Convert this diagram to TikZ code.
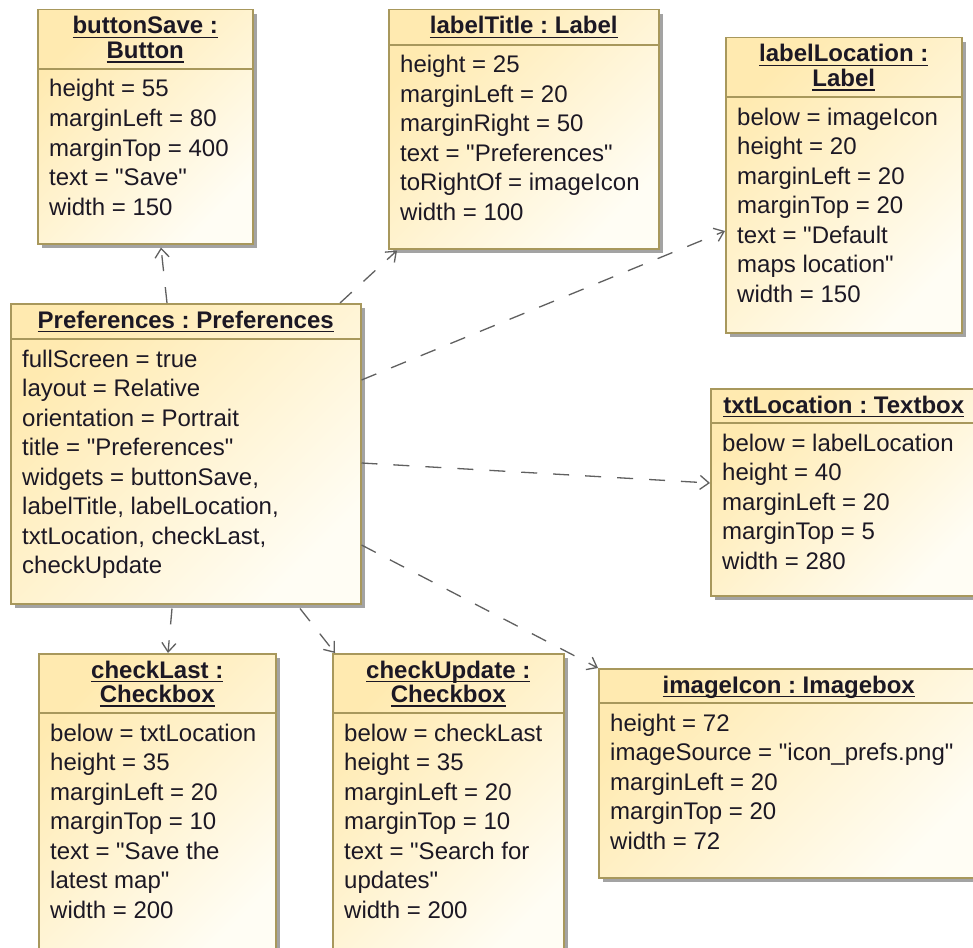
\documentclass[tikz,border=0pt]{standalone}
\usepackage{fontspec}
% plain family without TeX ligature mapping, so " stays a straight quote
\newfontfamily\objfamily{Liberation Sans}
\usetikzlibrary{arrows.meta,shadows,calc}

\definecolor{objedge}{RGB}{168,152,92}
\definecolor{objfillA}{RGB}{255,234,176}
\definecolor{objfillB}{RGB}{255,253,244}
\definecolor{objink}{RGB}{28,24,36}
\definecolor{linkink}{RGB}{96,96,96}

% underlined title line with a fixed rule position
\newcommand\objul[1]{\setbox0\hbox{#1}\rlap{\vrule height -2.6pt depth 4.2pt width \wd0}\box0}
% centred title lines, separated by \\
\newcommand\objtitle[1]{\vtop{\baselineskip=24.5pt\lineskiplimit=-100pt\let\\=\cr\halign{\hfil##\hfil\cr#1\crcr}}}
% left aligned attribute lines, separated by \\
\newcommand\objlines[1]{\vtop{\baselineskip=29.5pt\lineskiplimit=-100pt\let\\=\cr\halign{##\hfil\cr#1\crcr}}}

\tikzset{
  objbox/.style={draw=objedge, line width=1.5pt, inner sep=0pt,
    top color=objfillA, bottom color=objfillB, shading angle=45,
    drop shadow={shadow xshift=4pt, shadow yshift=-4pt, fill=black!45, opacity=0.8}},
  objborder/.style={draw=objedge, line width=1.5pt},
  titletext/.style={inner sep=0pt, text=objink, font=\objfamily\frenchspacing\fontsize{24pt}{24.5pt}\selectfont\bfseries},
  bodytext/.style={inner sep=0pt, text=objink, font=\objfamily\frenchspacing\fontsize{24pt}{29.5pt}\selectfont},
  link/.style={draw=linkink, line width=1.3pt, dash pattern=on 16pt off 16pt,
    -{Straight Barb[length=9pt,width=14pt]}}
}

% name, left, top, width, height, header height, title, attributes
\newcommand\umlobject[8]{%
  \node[objbox, minimum width=#4pt, minimum height=#5pt, anchor=north west] (#1) at (#2,#3) {};
  \draw[objborder] ([yshift=-#6pt]#1.north west) -- ([yshift=-#6pt]#1.north east);
  \node[titletext, anchor=base] at ([yshift=-25pt]#1.north) {\objtitle{#7}};
  \node[bodytext, anchor=base west] at ([xshift=12pt, yshift=-#6pt-28pt]#1.north west) {\objlines{#8}};
}

\begin{document}
\begin{tikzpicture}[x=1pt,y=-1pt]
\useasboundingbox (0,0) rectangle (973,947);
\clip (0,0) rectangle (973,947);
\fill[white] (0,0) rectangle (973,947);

\umlobject{bsave}{37}{9}{215}{234}{60}{\objul{buttonSave :}\\\objul{Button}}%
  {height = 55\\marginLeft = 80\\marginTop = 400\\text = "Save"\\width = 150}

\umlobject{ltitle}{388}{9}{270}{239}{36}{\objul{labelTitle : Label}}%
  {height = 25\\marginLeft = 20\\marginRight = 50\\text = "Preferences"\\toRightOf = imageIcon\\width = 100}

\umlobject{lloc}{725}{37}{236}{295}{60}{\objul{labelLocation :}\\\objul{Label}}%
  {below = imageIcon\\height = 20\\marginLeft = 20\\marginTop = 20\\text = "Default\\maps location"\\width = 150}

\umlobject{pref}{10}{303}{350}{300}{36}{\objul{Preferences : Preferences}}%
  {fullScreen = true\\layout = Relative\\orientation = Portrait\\title = "Preferences"\\widgets = buttonSave,\\labelTitle, labelLocation,\\txtLocation, checkLast,\\checkUpdate}

\umlobject{txtloc}{710}{388}{266}{207}{35}{\objul{txtLocation : Textbox}}%
  {below = labelLocation\\height = 40\\marginLeft = 20\\marginTop = 5\\width = 280}

\umlobject{clast}{38}{653}{237}{310}{60}{\objul{checkLast :}\\\objul{Checkbox}}%
  {below = txtLocation\\height = 35\\marginLeft = 20\\marginTop = 10\\text = "Save the\\latest map"\\width = 200}

\umlobject{cupd}{332}{653}{231}{310}{60}{\objul{checkUpdate :}\\\objul{Checkbox}}%
  {below = checkLast\\height = 35\\marginLeft = 20\\marginTop = 10\\text = "Search for\\updates"\\width = 200}

\umlobject{imgicon}{598}{668}{380}{209}{35}{\objul{imageIcon : Imagebox}}%
  {height = 72\\imageSource = "icon\_prefs.png"\\marginLeft = 20\\marginTop = 20\\width = 72}

% widget links from the Preferences object
\draw[link] ([xshift=157pt]pref.north west) -- ([xshift=124pt,yshift=-3pt]bsave.south west);
\draw[link] ([xshift=330pt]pref.north west) -- ([xshift=9pt,yshift=-1pt]ltitle.south west);
\draw[link] ([yshift=-77pt]pref.north east) -- ([yshift=-194pt]lloc.north west);
\draw[link] ([yshift=-160pt]pref.north east) -- ([yshift=-95pt]txtloc.north west);
\draw[link] ([yshift=-242pt]pref.north east) -- (imgicon.north west);
\draw[link] ([xshift=162pt,yshift=-4pt]pref.south west) -- ([xshift=130pt]clast.north west);
\draw[link] ([xshift=290pt,yshift=-4pt]pref.south west) -- ([xshift=3pt]cupd.north west);
\end{tikzpicture}
\end{document}
